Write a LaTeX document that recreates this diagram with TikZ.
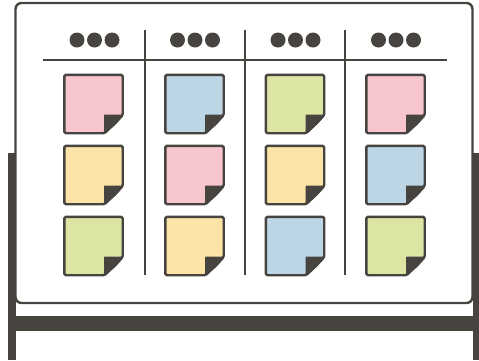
\documentclass[tikz,border=0pt]{standalone}
\usepackage{tikz}
\definecolor{ink}{HTML}{474440}
\definecolor{npink}{HTML}{F7C5CE}
\definecolor{nblue}{HTML}{BDD6E6}
\definecolor{ngreen}{HTML}{DDE5A5}
\definecolor{nyellow}{HTML}{FCE3A6}
\tikzset{
  boardline/.style={draw=ink, line width=2.4pt, rounded corners=6pt, fill=white},
  divider/.style={draw=ink, line width=2pt},
  bar/.style={fill=ink, draw=none},
  dot/.style={circle, fill=ink, minimum size=15pt, inner sep=0pt},
  notebody/.style={draw=ink, line width=2.4pt, line join=round, rounded corners=1.5pt},
  flap/.style={fill=ink, draw=ink, line width=1pt, line join=round},
  anchorbox/.style={minimum size=58pt, inner sep=0pt}
}
\newcommand\stickynote[3]{%
  \node[anchorbox] (#1) at (#2) {};
  \draw[notebody, fill=#3] (#1.north west) -- (#1.north east) -- ([yshift=18pt]#1.south east)
    -- ([xshift=-18pt]#1.south east) -- (#1.south west) -- cycle;
  \fill[flap] ([xshift=-18pt,yshift=18pt]#1.south east) -- ([yshift=18pt]#1.south east)
    .. controls ([xshift=-6pt,yshift=10pt]#1.south east) .. ([xshift=-18pt]#1.south east) -- cycle;
}
\begin{document}
\begin{tikzpicture}[x=1pt,y=-1pt]
\useasboundingbox (0,0) rectangle (479,360);
% stand
\fill[bar] (8,153) rectangle (16,360);
\fill[bar] (473,153) rectangle (481,360);
\fill[bar] (8,316) rectangle (479,331);
% board
\draw[boardline] (15.5,3) rectangle (472.5,303);
% header line and dividers
\coordinate (hl) at (43,60);
\coordinate (hr) at (447,60);
\draw[divider] (hl) -- (hr);
\foreach \x [count=\i] in {144.5,245,345}{
  \coordinate (dt\i) at (\x,30);
  \coordinate (db\i) at (\x,275);
  \draw[divider] (dt\i) -- (db\i);
}
% header dots
\foreach \c [count=\i] in {94.5,195,295.5,396}{
  \node[dot] (d\i a) at (\c-17.5,40) {};
  \node[dot] (d\i b) at (\c,40) {};
  \node[dot] (d\i c) at (\c+17.5,40) {};
}
% notes
\stickynote{n11}{93.5,104}{npink}
\stickynote{n21}{93.5,175}{nyellow}
\stickynote{n31}{93.5,246}{ngreen}
\stickynote{n12}{194.5,104}{nblue}
\stickynote{n22}{194.5,175}{npink}
\stickynote{n32}{194.5,246}{nyellow}
\stickynote{n13}{295,104}{ngreen}
\stickynote{n23}{295,175}{nyellow}
\stickynote{n33}{295,246}{nblue}
\stickynote{n14}{395.5,104}{npink}
\stickynote{n24}{395.5,175}{nblue}
\stickynote{n34}{395.5,246}{ngreen}
\end{tikzpicture}
\end{document}
